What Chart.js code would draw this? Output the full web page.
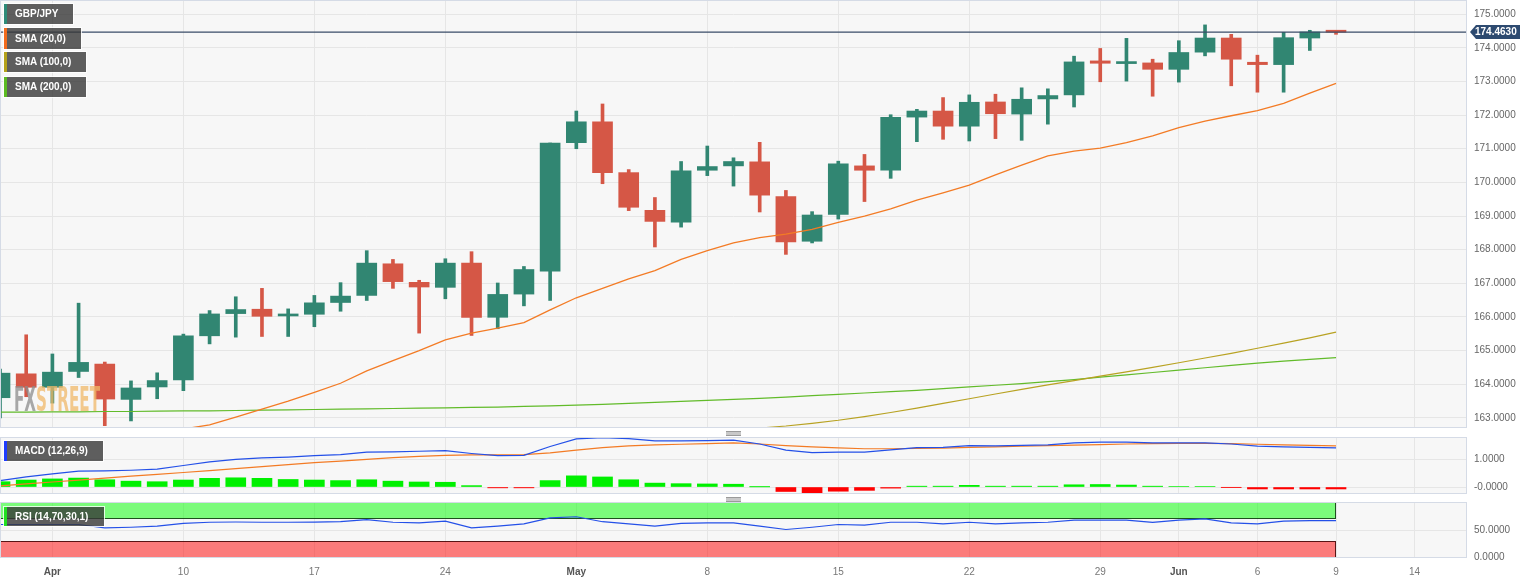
<!DOCTYPE html>
<html><head><meta charset="utf-8">
<script src="https://cdn.jsdelivr.net/npm/chart.js@4.4.0/dist/chart.umd.min.js"></script>
<style>
html,body{margin:0;padding:0;background:#fff}
body{width:1536px;height:582px;overflow:hidden;position:relative;font-family:"Liberation Sans",Arial,sans-serif}
.pane{position:absolute;left:0;width:1536px}
.lg{position:absolute;left:4px;height:20px;background:rgba(55,55,55,0.8);color:#fff;font:bold 10px "Liberation Sans",Arial,sans-serif;line-height:20px;padding-left:8px;box-sizing:border-box;border-left:3px solid;box-shadow:0 0 0 1px rgba(255,255,255,0.8);white-space:nowrap;z-index:5}
.hd{position:absolute;left:726px;width:15px;height:3px;border-top:1px solid #9a9a9a;border-bottom:1px solid #9a9a9a;background:#c8c8c8;z-index:5}
#wm{position:absolute;left:14px;top:381px;font:bold 33px "Liberation Sans Narrow","DejaVu Sans Condensed",sans-serif;line-height:38px;opacity:0.75;transform-origin:0 0;z-index:4;white-space:nowrap}
</style></head>
<body>
<div class="pane" style="top:0;height:428px"><canvas id="cMain"></canvas></div>
<div class="pane" style="top:437px;height:57px"><canvas id="cMacd"></canvas></div>
<div class="pane" style="top:502px;height:80px"><canvas id="cRsi"></canvas></div>
<div class="lg" style="top:4px;width:69px;border-color:#2e8b78">GBP/JPY</div>
<div class="lg" style="top:28px;width:77px;height:21px;line-height:21px;border-color:#f26b1d">SMA (20,0)</div>
<div class="lg" style="top:52px;width:82px;border-color:#b5a21a">SMA (100,0)</div>
<div class="lg" style="top:77px;width:82px;border-color:#5cbb22">SMA (200,0)</div>
<div class="lg" style="top:441px;width:99px;border-color:#1e3cff">MACD (12,26,9)</div>
<div class="lg" style="top:507px;width:100px;height:19px;line-height:19px;border-color:#22e022">RSI (14,70,30,1)</div>
<div class="hd" style="top:431px"></div>
<div class="hd" style="top:497px"></div>
<div id="wm"><span style="color:#8c8c8c">FX</span><span style="color:#f0b868">STREET</span></div>
<script>
const FONT = '"Liberation Sans", Arial, sans-serif';
Chart.defaults.font.family = FONT;

// ---- categories (trading days) ----
const dates = ['2023-03-30','2023-03-31','2023-04-03','2023-04-04','2023-04-05','2023-04-06','2023-04-07',
 '2023-04-10','2023-04-11','2023-04-12','2023-04-13','2023-04-14','2023-04-17','2023-04-18','2023-04-19','2023-04-20','2023-04-21',
 '2023-04-24','2023-04-25','2023-04-26','2023-04-27','2023-04-28','2023-05-01','2023-05-02','2023-05-03','2023-05-04','2023-05-05',
 '2023-05-08','2023-05-09','2023-05-10','2023-05-11','2023-05-12','2023-05-15','2023-05-16','2023-05-17','2023-05-18','2023-05-19',
 '2023-05-22','2023-05-23','2023-05-24','2023-05-25','2023-05-26','2023-05-29','2023-05-30','2023-05-31','2023-06-01','2023-06-02',
 '2023-06-05','2023-06-06','2023-06-07','2023-06-08','2023-06-09'];

// ---- GBP/JPY OHLC ----
const open  = [163.60,164.31,163.91,164.38,164.60,163.55,163.92,164.13,165.44,166.10,166.23,166.03,166.08,166.43,166.64,167.58,167.03,
 166.88,167.60,165.99,166.68,167.36,171.18,171.80,170.29,169.17,168.82,170.36,170.49,170.61,169.58,168.25,169.05,170.49,170.36,171.94,
 172.12,171.67,172.39,172.03,172.48,172.60,173.61,173.53,173.55,173.36,173.87,174.29,173.57,173.50,174.29,174.50];
const high  = [164.45,165.47,164.90,166.41,164.66,164.10,164.34,165.49,166.19,166.60,166.85,166.24,166.64,167.02,167.97,167.71,167.09,
 167.73,167.94,167.01,167.50,171.17,172.12,172.33,170.38,169.55,170.62,171.08,170.73,171.19,169.76,169.13,170.63,170.83,172.01,172.17,
 172.52,172.60,172.62,172.81,172.78,173.75,173.98,174.28,173.66,174.21,174.68,174.40,173.78,174.46,174.52,174.50];
const low   = [163.00,163.63,163.44,164.20,162.77,162.91,163.57,163.81,165.20,165.40,165.42,165.42,165.71,166.17,166.49,166.85,165.52,
 166.54,165.45,165.65,166.33,166.49,171.00,169.96,169.16,168.08,168.67,170.20,169.89,169.12,167.86,168.20,168.91,169.43,170.12,171.21,
 171.28,171.23,171.30,171.25,171.73,172.24,172.99,173.01,172.56,172.98,173.76,172.87,172.68,172.68,173.92,174.40];
const close = [164.33,163.91,164.36,164.65,163.56,163.89,164.11,165.44,166.09,166.22,166.02,166.07,166.42,166.62,167.60,167.05,166.89,
 167.60,165.99,166.67,167.41,171.17,171.80,170.29,169.26,168.84,170.34,170.47,170.62,169.62,168.23,169.03,170.55,170.36,171.93,172.12,
 171.67,172.38,172.04,172.47,172.58,173.58,173.54,173.56,173.36,173.86,174.29,173.66,173.50,174.30,174.47,174.463];
const lastPrice = 174.463;

// ---- moving averages ----
const sma20 = [null,null,null,null,null,null,162.50,162.67,162.79,163.02,163.26,163.50,163.76,164.03,164.40,164.70,165.00,
 165.32,165.52,165.67,165.83,166.21,166.57,166.85,167.13,167.38,167.71,167.97,168.20,168.36,168.46,168.60,168.81,169.00,169.21,169.47,
 169.69,169.92,170.22,170.51,170.79,170.93,171.02,171.18,171.38,171.63,171.82,171.98,172.13,172.35,172.65,172.94];
const sma100 = [null,null,null,null,null,null,null,null,null,null,null,null,null,null,null,null,null,
 null,null,null,null,null,null,null,null,null,null,162.60,162.65,162.70,162.76,162.84,162.93,163.04,163.16,163.29,
 163.43,163.57,163.71,163.85,163.98,164.11,164.24,164.37,164.50,164.64,164.78,164.92,165.07,165.22,165.38,165.55];
const sma200 = [163.17,163.17,163.18,163.18,163.19,163.19,163.20,163.21,163.21,163.22,163.23,163.24,163.25,163.26,163.27,163.28,163.29,
 163.30,163.31,163.32,163.34,163.36,163.38,163.40,163.43,163.46,163.49,163.52,163.55,163.58,163.62,163.66,163.70,163.74,163.78,163.82,
 163.87,163.92,163.97,164.02,164.08,164.14,164.21,164.28,164.35,164.42,164.49,164.56,164.63,164.69,164.74,164.79];

// ---- MACD (12,26,9) ----
const macdLine = [0.23,0.36,0.47,0.57,0.58,0.60,0.64,0.77,0.90,0.99,1.04,1.07,1.12,1.16,1.25,1.26,1.28,
 1.30,1.20,1.12,1.13,1.45,1.72,1.77,1.73,1.65,1.65,1.66,1.68,1.54,1.32,1.23,1.25,1.25,1.33,1.41,
 1.42,1.48,1.47,1.49,1.51,1.58,1.61,1.61,1.58,1.58,1.58,1.54,1.46,1.44,1.42,1.40];
const macdSignal = [0.04,0.11,0.18,0.25,0.32,0.39,0.45,0.52,0.59,0.66,0.73,0.80,0.87,0.93,0.99,1.05,1.10,
 1.13,1.15,1.15,1.16,1.22,1.32,1.41,1.47,1.51,1.53,1.55,1.58,1.54,1.48,1.44,1.40,1.37,1.37,1.38,
 1.39,1.42,1.44,1.46,1.48,1.50,1.52,1.54,1.55,1.56,1.56,1.55,1.53,1.51,1.49,1.47];
const macdHist = [0.19,0.25,0.29,0.32,0.26,0.21,0.19,0.25,0.31,0.33,0.31,0.27,0.25,0.23,0.26,0.21,0.18,
 0.17,0.05,-0.03,-0.03,0.23,0.40,0.36,0.26,0.14,0.12,0.11,0.10,0.005,-0.16,-0.21,-0.15,-0.12,-0.04,0.03,
 0.03,0.06,0.03,0.03,0.03,0.08,0.09,0.07,0.03,0.02,0.02,-0.01,-0.07,-0.07,-0.07,-0.07];

// ---- RSI (14,70,30,1) ----
const rsi = [60,60,60,60,54,55,57,62,64,64.5,64,64,64.4,65,68.6,64,63,
 66,54,57,61,72,74,65,61,57,62,63,63,57,51,55,60,59,64,64,
 61,64,61,63,64,68,68,68,64,68,70,63,61,66,67,67];
const rsiBands = [{lo:70, hi:100, fill:'rgba(0,255,0,0.5)', edge:'rgba(20,60,20,0.9)'},
                  {lo:0,  hi:30,  fill:'rgba(255,0,0,0.5)', edge:'rgba(70,10,10,0.9)'}];

// ---- axis ticks ----
const xTickIdx    = [2,7,12,17,22,27,32,37,42,45,48,51,54];
const xTickLabels = ['Apr','10','17','24','May','8','15','22','29','Jun','6','9','14'];
const monthLabels = ['Apr','May','Jun'];
const xMin = 0, xMax = 56;
const priceTicks = [163,164,165,166,167,168,169,170,171,172,173,174,175];
const macdTicks = [0,1];
const rsiTicks = [0,50];

const UP = '#318672', DN = '#d55746';
const GRID = '#e6e6e6';

function noPad(s){ s.paddingTop = 0; s.paddingBottom = 0; s.paddingLeft = 0; s.paddingRight = 0; }
function xScale(show){
  return {type:'linear', min:xMin, max:xMax, offset:false,
    grid:{color:GRID, drawTicks:false, offset:false}, border:{display:false},
    afterBuildTicks: s => { s.ticks = xTickIdx.map(v => ({value:v})); },
    afterFit: s => { s.height = show ? 24 : 0; noPad(s); },
    ticks:{display:show, autoSkip:false, maxRotation:0, padding:8,
      callback:(v,i) => xTickLabels[i],
      color: c => monthLabels.includes(xTickLabels[c.index]) ? '#555' : '#777',
      font: c => ({family:FONT, size:10, weight: monthLabels.includes(xTickLabels[c.index]) ? 'bold' : 'normal'})}
  };
}
function yScale(min, max, ticks, fmt){
  return {position:'right', min:min, max:max,
    grid:{color:GRID, drawTicks:false}, border:{display:false},
    afterBuildTicks: s => { s.ticks = ticks.map(v => ({value:v})); },
    afterFit: s => { s.width = 69; noPad(s); },
    ticks:{padding:7, color:'#666', font:{family:FONT, size:10}, callback: fmt}
  };
}
const panel = {
  id:'panel',
  beforeDraw(c){ const a=c.chartArea, x=c.ctx; x.save(); x.fillStyle='#f7f7f7'; x.fillRect(a.left,a.top,a.right-a.left,a.bottom-a.top); x.restore(); },
  afterDraw(c){ const a=c.chartArea, x=c.ctx; x.save(); x.strokeStyle='#d5dbe6'; x.lineWidth=1; x.strokeRect(a.left+0.5,a.top+0.5,a.right-a.left-1,a.bottom-a.top-1); x.restore(); }
};
const baseOpts = {responsive:true, maintainAspectRatio:false, animation:false, events:[],
  layout:{padding:0, autoPadding:false}, plugins:{legend:{display:false}, tooltip:{enabled:false}}};

const pts = arr => arr.map((v,i) => ({x:i, y:v}));
const candleCol = close.map((c,i) => c >= open[i] ? UP : DN);

// ---------- main chart ----------
const priceLabel = {
  id:'priceLabel',
  afterDraw(c){
    const x=c.ctx, y=Math.round(c.scales.y.getPixelForValue(lastPrice)), l=c.chartArea.right+3;
    x.save(); x.fillStyle='#2d4a70';
    x.beginPath(); x.moveTo(l,y); x.lineTo(l+6,y-7); x.lineTo(l+50,y-7); x.lineTo(l+50,y+7); x.lineTo(l+6,y+7); x.closePath(); x.fill();
    x.fillStyle='#fff'; x.font='bold 10px '+FONT; x.textBaseline='middle'; x.textAlign='left';
    x.fillText(lastPrice.toFixed(4), l+5, y+0.5); x.restore();
  }
};
new Chart(document.getElementById('cMain'), {
  type:'bar',
  data:{datasets:[
    {type:'line', data:[{x:xMin-1,y:lastPrice},{x:xMax+1,y:lastPrice}], borderColor:'#3a4c68', borderWidth:1.3, pointRadius:0, order:0},
    {type:'line', data:pts(sma20),  borderColor:'#f37b25', borderWidth:1.3, pointRadius:0, order:0},
    {type:'line', data:pts(sma100), borderColor:'#b8a222', borderWidth:1.2, pointRadius:0, order:0},
    {type:'line', data:pts(sma200), borderColor:'#62bb2a', borderWidth:1.2, pointRadius:0, order:0},
    {data:open.map((o,i)=>({x:i, y:[o, close[i]]})), backgroundColor:candleCol, barThickness:20, minBarLength:2, grouped:false, borderWidth:0, order:1},
    {data:low.map((l,i)=>({x:i, y:[l, high[i]]})), backgroundColor:candleCol, barThickness:3, grouped:false, borderWidth:0, order:2}
  ]},
  options:Object.assign({}, baseOpts, {scales:{x:xScale(false), y:yScale(162.70, 175.42, priceTicks, v => v.toFixed(4))}}),
  plugins:[panel, priceLabel]
});

// ---------- MACD ----------
new Chart(document.getElementById('cMacd'), {
  type:'bar',
  data:{datasets:[
    {type:'line', data:pts(macdLine),   borderColor:'#2450e8', borderWidth:1.2, pointRadius:0, order:0},
    {type:'line', data:pts(macdSignal), borderColor:'#f37b25', borderWidth:1.2, pointRadius:0, order:0},
    {data:pts(macdHist), backgroundColor:macdHist.map(v => v >= 0 ? '#00f000' : '#ff0000'), barThickness:20, grouped:false, borderWidth:0, order:1}
  ]},
  options:Object.assign({}, baseOpts, {scales:{x:xScale(false), y:yScale(-0.25, 1.79, macdTicks, v => v === 0 ? '-0.0000' : v.toFixed(4))}}),
  plugins:[panel]
});

// ---------- RSI ----------
const bands = {
  id:'bands',
  beforeDatasetsDraw(c){
    const x=c.ctx, xs=c.scales.x, ys=c.scales.y, l=c.chartArea.left, r=Math.round(xs.getPixelForValue(rsi.length-1));
    x.save();
    rsiBands.forEach(b => {
      const t=Math.round(ys.getPixelForValue(b.hi)), btm=Math.round(ys.getPixelForValue(b.lo));
      x.fillStyle=b.fill; x.fillRect(l, t, r-l, btm-t);
      x.strokeStyle=b.edge; x.lineWidth=1; x.strokeRect(l+0.5, t+0.5, r-l-1, btm-t-1);
    });
    x.restore();
  }
};
new Chart(document.getElementById('cRsi'), {
  type:'line',
  data:{datasets:[{data:pts(rsi), borderColor:'#2450e8', borderWidth:1.2, pointRadius:0}]},
  options:Object.assign({}, baseOpts, {scales:{x:xScale(true), y:yScale(-0.5, 100.6, rsiTicks, v => v.toFixed(4))}}),
  plugins:[panel, bands]
});

// watermark width fit
const wm = document.getElementById('wm');
wm.style.transform = 'scaleX(' + (86 / wm.getBoundingClientRect().width) + ')';
</script>
</body></html>
